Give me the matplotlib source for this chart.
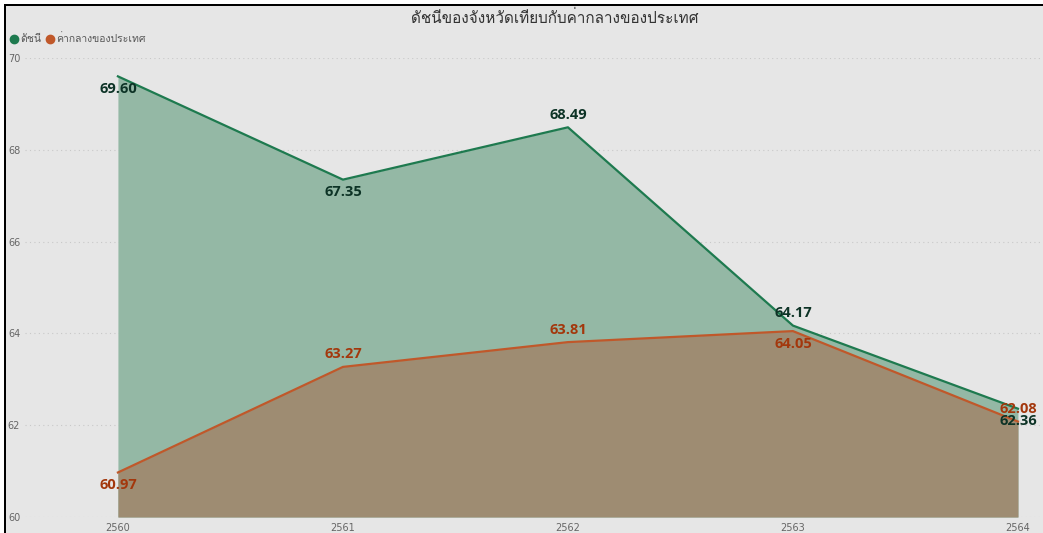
import matplotlib
matplotlib.use("Agg")
import matplotlib.pyplot as plt
from matplotlib import font_manager
from matplotlib.ft2font import FT2Font
from matplotlib.lines import Line2D
from matplotlib.patches import Rectangle

# data
years = [2560, 2561, 2562, 2563, 2564]
index_vals = [69.60, 67.35, 68.49, 64.17, 62.36]
median_vals = [60.97, 63.27, 63.81, 64.05, 62.08]
title = "ดัชนีของจังหวัดเทียบกับค่ากลางของประเทศ"
legend_labels = ["ดัชนี", "ค่ากลางของประเทศ"]
y_ticks = [60, 62, 64, 66, 68, 70]

# label placement: True = above point
index_above = [False, False, True, True, False]
median_above = [False, True, True, False, True]


def find_thai_font():
    """Find an installed font that has Thai glyphs."""
    for f in font_manager.fontManager.ttflist:
        try:
            cm = FT2Font(f.fname).get_charmap()
        except Exception:
            continue
        if 0x0E14 in cm and 0x0E35 in cm:
            return f.name
    return None


thai = find_thai_font()
families = ([thai] if thai else []) + ["DejaVu Sans"]

green = "#1e7a4f"
green_fill = "#94b8a5"
orange = "#c0582a"
brown_fill = "#9e8c72"
bg = "#e6e6e6"

fig = plt.figure(figsize=(10.43, 5.33), dpi=100, facecolor=bg)
ax = fig.add_axes([25 / 1043, 16 / 533, 1015 / 1043, 459 / 533])
ax.set_facecolor(bg)

ax.fill_between(years, index_vals, 60, color=green_fill, lw=0, zorder=2)
ax.fill_between(years, median_vals, 60, color=brown_fill, lw=0, zorder=3)
ax.plot(years, index_vals, color=green, lw=1.6, zorder=4)
ax.plot(years, median_vals, color=orange, lw=1.6, zorder=5)

label_font = ["Open Sans", "DejaVu Sans"]
for x, v, up in zip(years, index_vals, index_above):
    ax.annotate(f"{v:.2f}", (x, v), xytext=(0, 4 if up else -4), textcoords="offset points",
                ha="center", va="bottom" if up else "top", fontsize=10.5, fontweight="bold",
                color="#0d3326", family=label_font, zorder=6)
for x, v, up in zip(years, median_vals, median_above):
    ax.annotate(f"{v:.2f}", (x, v), xytext=(0, 4 if up else -4), textcoords="offset points",
                ha="center", va="bottom" if up else "top", fontsize=10.5, fontweight="bold",
                color="#a3370c", family=label_font, zorder=6)

ax.set_xlim(2559.587, 2564.098)
ax.set_ylim(60, 70)
ax.set_yticks(y_ticks)
ax.set_xticks(years)
ax.set_xticklabels([str(y) for y in years])
ax.tick_params(length=0, labelsize=7, colors="#666666")
ax.tick_params(axis="y", pad=3.5)
ax.tick_params(axis="x", pad=4)
ax.grid(axis="y", color="#c8c8c8", linestyle=(0, (1, 3)), lw=0.8, zorder=1)
for s in ax.spines.values():
    s.set_visible(False)

fig.text(555 / 1043, 1 - 17.5 / 533, title, ha="center", va="center", fontsize=11,
         color="#333333", family=families)

handles = [Line2D([], [], marker="o", ls="", color=green, markersize=6),
           Line2D([], [], marker="o", ls="", color=orange, markersize=6)]
fig.legend(handles, legend_labels, loc="center left", bbox_to_anchor=(0 / 1043, 1 - 39 / 533),
           ncol=2, frameon=False, handletextpad=0.2, columnspacing=0.5, handlelength=0.8,
           prop={"family": families, "size": 7.5}, labelcolor="#555555")

# white margin and black frame on the top and left edges only
W, H = 1043, 533
for (x0, y0, w, h, c) in [(0, 1 - 4 / H, 1, 4 / H, "white"),
                          (0, 0, 4 / W, 1, "white"),
                          (4 / W, 1 - 6 / H, 1 - 4 / W, 2 / H, "black"),
                          (4 / W, 0, 2 / W, 1 - 4 / H, "black")]:
    fig.add_artist(Rectangle((x0, y0), w, h, transform=fig.transFigure,
                             facecolor=c, edgecolor="none", lw=0))

fig.savefig("out.png", dpi=100, facecolor=bg)
